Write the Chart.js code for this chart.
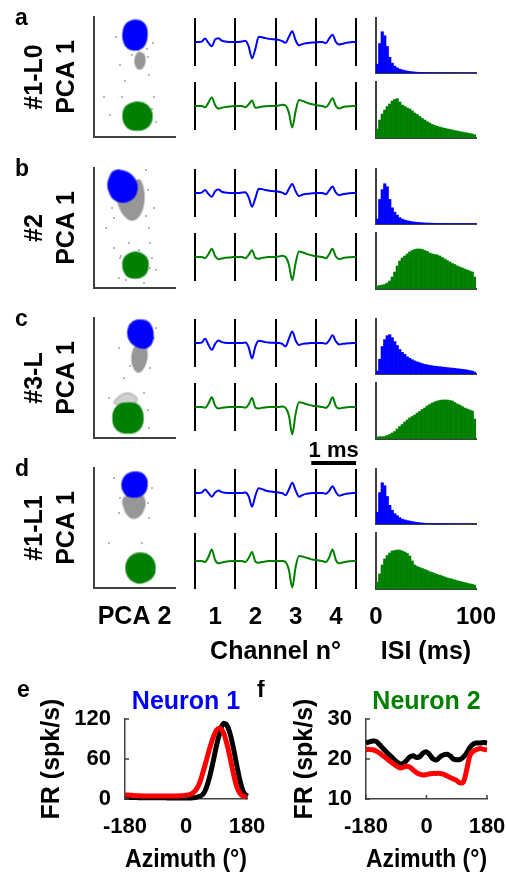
<!DOCTYPE html>
<html>
<head>
<meta charset="utf-8">
<title>Spike sorting and azimuth tuning</title>
<script src="https://cdn.jsdelivr.net/npm/chart.js@4.4.1/dist/chart.umd.min.js"></script>
<style>
html, body { margin: 0; padding: 0; background: #fff; overflow: hidden; }
#fig { position: relative; width: 506px; height: 875px; overflow: hidden; }
#fig canvas { position: absolute; }
</style>
</head>
<body>
<div id="fig"></div>
<script>
// recordings, one per row
const rowLetters = ['a', 'b', 'c', 'd'];
const rowNames = ['#1-L0', '#2', '#3-L', '#1-L1'];

// PCA clusters, outlines as [PCA 2, PCA 1]
const blueClusterA = [[41,117],[48,115],[52,110],[53,102],[51,93],[46,88],[40,87],[34,89],[30,95],[29,103],[31,111],[35,115]];
const grayClusterA = [[46,85],[50,82],[51,76],[49,70],[45,68],[42,71],[41,77],[43,83]];
const greenClusterA = [[43,35],[51,33],[56,28],[58,21],[56,13],[50,8],[43,7],[36,8],[31,13],[29,21],[31,29],[36,33]];
const strayA = [[26,72],[59,94],[16,22],[55,62],[31,56],[60,40],[22,100],[54,80],[10,40],[62,15],[38,82],[53,88],[47,92],[58,28],[28,40]];

const blueClusterB = [[24,118],[32,116],[38,112],[42,106],[43,99],[40,91],[34,87],[27,86],[20,89],[16,95],[14,103],[16,111],[19,116]];
const grayClusterB = [[30,98],[38,104],[45,108],[49,100],[50,90],[48,78],[43,70],[37,68],[31,72],[26,80],[24,90]];
const greenClusterB = [[41,36],[48,34],[53,29],[54,22],[52,15],[47,11],[41,10],[35,11],[31,15],[29,22],[30,29],[35,34]];
const strayB = [[60,80],[55,60],[20,40],[58,30],[25,10],[50,5],[62,18],[12,60],[52,118],[18,80],[56,45],[35,45],[26,30],[27,32],[56,20],[45,38],[32,8],[52,72],[54,98],[20,70]];

const blueClusterC = [[44,118],[52,117],[57,112],[59,104],[58,96],[54,91],[48,90],[42,92],[37,96],[34,103],[35,111],[39,116]];
const grayClusterC = [[42,93],[50,93],[53,86],[52,76],[48,68],[44,66],[40,70],[38,78],[39,87]];
const faintClusterC = [[24,41],[32,45],[40,43],[43,38],[38,33],[28,33],[20,35]];
const greenClusterC = [[34,35],[42,34],[47,29],[49,20],[47,11],[41,6],[34,5],[27,6],[21,11],[19,20],[21,29],[27,34]];
const strayC = [[60,100],[25,90],[15,40],[55,10],[50,45],[62,110],[30,60],[54,28],[56,70],[36,72]];

const blueClusterD = [[40,116],[47,115],[52,110],[53,103],[51,96],[46,92],[40,91],[34,92],[30,96],[28,103],[30,110],[34,114]];
const grayClusterD = [[33,93],[47,93],[51,86],[49,77],[44,71],[38,70],[33,74],[30,81],[29,88]];
const greenClusterD = [[46,35],[54,33],[59,28],[61,20],[59,12],[53,7],[46,5],[39,7],[34,12],[32,20],[34,28],[39,33]];
const strayD = [[15,45],[58,100],[25,75],[60,15],[55,70],[20,110],[48,45],[26,90],[54,85]];

// mean waveforms, 12 samples per channel on channels 1-4 (uV, arbitrary scale)
const samplesPerChannel = 12;
const channelNumbers = [1, 2, 3, 4];
const channelEdges = [0.5, 1.5, 2.5, 3.5, 4.5];

const waveBlueA = [0, 0, 0.5, 4, -1, -5, 3, 4.5, 1.5, 0.5, 0, 0,
                   0, 0, 0.5, 1.5, -5, -19, -8, 6, 5.5, 4.5, 3.8, 3.2,
                   3, 2.5, 1, -1, 6, 12.5, 2, -4, -2.5, -1.5, -1, -0.5,
                   -0.5, 0, 0, -1.5, 4, 8.5, 0, -3, -2, -1, -0.5, 0, 0];
const waveGreenA = [0, 0, 0, -1.5, 4, 10, 1, -3, -2, -1.3, -0.8, -0.3,
                    0, 0, 0, -1.5, 2, 6.5, -2, -1.5, -0.7, -0.3, 0, 0,
                    0, 0.5, 1.5, 0.5, -8, -25, -6, 7, 6, 4.5, 3, 2,
                    1, 0.5, 0, -1.5, 3, 9, 0, -3, -1.5, -0.7, -0.3, 0, 0];
const waveBlueB = [0, 0, 0.5, 3.5, -1, -4.5, 2, 4, 1.5, 0.5, 0, 0,
                   0, 0, 0.5, 1, -5, -16, -6, 5, 4.5, 3.5, 2.8, 2.2,
                   2, 1.5, 0.5, -1.5, 5, 10.5, 2, -3.5, -2, -1.2, -0.8, -0.3,
                   0, 0, 0, -1.5, 3, 7.5, 0.5, -2.5, -1.5, -0.8, -0.3, 0, 0];
const waveGreenB = [0, 0, 0, -1.5, 3.5, 9.5, 1, -2.5, -1.8, -1, -0.5, -0.2,
                    0, 0, 0, -1.5, 2.5, 8, -1, -2, -1, -0.5, 0, 0,
                    0, 0.5, 1.5, 0, -9, -27, -7, 6.5, 5.5, 4, 2.8, 1.8,
                    1, 0.5, 0, -1.5, 3, 9.5, 0.5, -2.5, -1.5, -0.7, -0.3, 0, 0];
const waveBlueC = [0, 0, 0.5, 5, -2, -8, -1, 3, 1, 0.3, 0, 0,
                   0, 0, 0, 0.5, -5, -18, -4, 2.5, 2, 1, 0.5, 0.3,
                   0, 0, -1, -4, 5, 13.5, 3, -2.3, -1, -0.5, -0.2, 0,
                   0, 0, 0, -1, 3, 9, 2, -1.7, -1, -0.5, -0.3, 0, 0];
const waveGreenC = [0, 0, 0, -1, 4, 11.5, 1.5, -1.7, -1, -0.5, 0, 0,
                    0, 0, 0, -1, 3, 10.5, -0.5, -1.7, -1, -0.5, 0, 0,
                    0, 0, 0.5, -1, -10, -32, -8, 5.5, 5, 3.5, 2.5, 1.5,
                    1, 0.5, 0, -1, 3, 11.5, 1, -1.7, -1, -0.5, 0, 0, 0];
const waveBlueD = [0, 0, 0.5, 4, 0, -4.3, 0.5, 3, 1, 0.3, 0, 0,
                   0, 0, 0, 0.5, -4, -16, -3, 5.5, 4.5, 3, 2, 1.5,
                   1, 0.5, 0, -2.7, 4, 12, 3, -4.3, -2.5, -1, -0.5, 0,
                   0, 0, 0, -1, 2.5, 8, 1, -3.3, -2, -1, -0.5, 0, 0];
const waveGreenD = [0, 0, 0, -1, 4, 11.5, 1, -2.3, -1.5, -0.8, -0.3, 0,
                    0, 0, 0, -1, 3, 9, -0.5, -1.7, -1, -0.5, 0, 0,
                    0, 0, 0, -1, -9, -26.5, -6, 5, 4.5, 3.5, 2.5, 1.5,
                    1, 0.5, 0, -1, 3.5, 11.5, 1, -2.3, -1.5, -0.8, -0.3, 0, 0];

// ISI histograms, 2.5 ms bins from 0 to 100 ms (normalised counts)
const isiTicks = [0, 100];
const isiBlueA = [9, 30, 42, 38, 27, 16, 10, 7, 5.2, 4, 3.2, 2.5, 2, 1.6, 1.3, 1, 0.8, 0.7, 0.6, 0.5,
                  0.4, 0.3, 0.3, 0.2, 0.2, 0.2, 0.1, 0.1, 0.1, 0.1, 0, 0, 0, 0, 0, 0, 0, 0, 0, 0];
const isiGreenA = [9, 18, 24, 28, 31.5, 34, 37, 38.5, 39.3, 36, 33, 31.5, 30, 29, 27, 25, 23.5, 21.5, 19.5, 18,
                   16.3, 15, 13.5, 12.5, 11.7, 11, 10.3, 9.6, 9.1, 8.6, 8, 7.4, 7, 6.4, 5.9, 5.4, 5, 4.5, 4, 3.2];
const isiBlueB = [5, 25, 35, 41, 38, 25, 16.5, 12, 9, 6.5, 5, 4, 3.3, 2.8, 2.3, 2, 1.7, 1.5, 1.3, 1.1,
                  1, 0.9, 0.8, 0.7, 0.6, 0.6, 0.5, 0.5, 0.4, 0.4, 0.4, 0.3, 0.3, 0.3, 0.3, 0.2, 0.2, 0.2, 0.2, 0.2];
const isiGreenB = [3, 3.5, 4, 4.5, 6, 8, 12, 17, 23, 28, 31, 33, 35, 37, 38.5, 39.5, 40, 40, 39.5, 38.5,
                   37.5, 36, 35, 34.5, 34, 33, 31.5, 30, 28.5, 27, 25.5, 24.5, 23, 22, 21, 20, 19, 18, 17, 12];
const isiBlueC = [3, 15, 28, 35, 39, 40, 37, 33, 29, 25, 22, 20, 17.5, 16, 14.5, 13.3, 12.3, 11.5, 10.5, 9.8,
                  9.3, 8.8, 8.4, 8, 7.7, 7.4, 7.1, 6.8, 6.5, 6.2, 6, 5.7, 5.4, 5.1, 4.8, 4.5, 4, 3.5, 3, 2];
const isiGreenC = [2, 2.3, 2.3, 2.5, 3.5, 4.5, 6, 7.5, 10, 12.5, 14.5, 17, 19, 21, 22.5, 24, 26, 27.5, 29.5, 31,
                   33, 34.5, 36, 37, 38, 38.5, 39, 39, 39, 38.5, 38, 36.5, 35, 34, 32.5, 31, 30, 29, 28, 20];
const isiBlueD = [12, 32, 42, 39, 28, 19, 14, 10.5, 8.5, 6.5, 5, 4.2, 3.5, 3, 2.4, 2, 1.6, 1.3, 1, 0.8,
                  0.6, 0.5, 0.4, 0.3, 0.3, 0.2, 0.2, 0.2, 0.1, 0.1, 0.1, 0.1, 0, 0, 0, 0, 0, 0, 0, 0];
const isiGreenD = [7, 15, 24, 30, 33.5, 36, 38, 38.5, 39, 39, 38, 37, 35.5, 33, 28, 24, 22.5, 21.5, 20.5, 19.5,
                   18.5, 17.3, 16.5, 15.5, 14.5, 13.8, 13, 12, 11, 10.5, 9.8, 9, 8.3, 7.6, 7, 6.4, 5.8, 5.2, 4.6, 4];

// azimuth tuning (deg, spk/s), black and red conditions
const azimuth = [-180, -170, -160, -150, -140, -130, -120, -110, -100, -90, -80, -70, -60, -50, -40, -30, -20, -10,
                 0, 10, 20, 30, 40, 50, 60, 70, 80, 90, 100, 110, 120, 130, 140, 150, 160, 170, 180];
const azimuthTicks = [-180, 0, 180];
const frBlack1 = [2.5, 2.5, 2.3, 2.2, 2, 2, 2, 2, 1.8, 1.8, 1.8, 1.7, 1.7, 1.6, 1.6, 1.5, 1.5, 1.5,
                  1.5, 1.5, 1.8, 2.5, 4, 7, 17, 34, 56, 80, 100, 113, 111, 98, 76, 50, 26, 10, 4];
const frRed1 = [6, 6, 5.5, 5, 5, 4.5, 4.5, 4.5, 4.5, 4.5, 4.5, 4.5, 4.5, 4.5, 4.5, 4.5, 4.8, 5,
                5.5, 6.5, 9, 14, 24, 40, 58, 76, 92, 103, 106, 100, 84, 62, 38, 18, 8, 4, 3];
const frBlack2 = [24, 24.3, 24.5, 24.4, 23.6, 22.7, 21.8, 21, 20.2, 19.4, 18.8, 18.9, 19.6, 20.5, 20.8, 20.4, 20.6, 21.5,
                  21.8, 21, 20, 19.8, 20.5, 21, 21.2, 20.8, 20, 19.8, 19.9, 20.5, 21.6, 23, 23.8, 24, 24, 24.1, 24];
const frRed2 = [22.4, 22.4, 22.3, 22, 21.5, 20.8, 20.2, 19.5, 18.9, 18.3, 17.8, 17.9, 18.2, 18, 17.3, 16.6, 16.2, 16,
                16.1, 16.3, 16.4, 16.4, 16.4, 16.2, 15.8, 15.4, 15, 14.6, 14, 14.3, 17.5, 21, 22, 22.4, 22.6, 22.4, 22.3];
const frTicks1 = [0, 60, 120];
const frTicks2 = [10, 20, 30];

// per-row groupings
const pcaRows = [
  { blue: blueClusterA, green: greenClusterA, gray: [grayClusterA], faint: [], stray: strayA },
  { blue: blueClusterB, green: greenClusterB, gray: [grayClusterB], faint: [], stray: strayB },
  { blue: blueClusterC, green: greenClusterC, gray: [grayClusterC], faint: [faintClusterC], stray: strayC },
  { blue: blueClusterD, green: greenClusterD, gray: [grayClusterD], faint: [], stray: strayD }
];
const waveRows = [[waveBlueA, waveGreenA], [waveBlueB, waveGreenB], [waveBlueC, waveGreenC], [waveBlueD, waveGreenD]];
const isiRows = [[isiBlueA, isiGreenA], [isiBlueB, isiGreenB], [isiBlueC, isiGreenC], [isiBlueD, isiGreenD]];

// ---- styling / layout ----
const FONT = '"Liberation Sans", Arial, Helvetica, sans-serif';
const BLUE = '#0000ff';
const GREEN = '#008000';
const GRAY = 'rgba(140, 140, 140, 0.9)';
const FAINT = 'rgba(150, 150, 150, 0.45)';
const RED = '#ff0000';
const AXIS = '#404040';
const unitColors = [BLUE, GREEN];
const rowTop = [17, 168, 318, 468];
const channelMs = 0.9;   // time window shown per channel
const scaleBarMs = 1;

Chart.defaults.font.family = FONT;
Chart.defaults.font.weight = 'bold';
Chart.defaults.color = '#000';
Chart.defaults.animation = false;
Chart.defaults.responsive = false;
Chart.defaults.devicePixelRatio = 1;
Chart.defaults.plugins.legend.display = false;
Chart.defaults.plugins.tooltip.enabled = false;

const fig = document.getElementById('fig');
const noGrid = { display: false, drawTicks: false };
const axisBorder = { display: true, color: AXIS, width: 2 };

function addCanvas(left, top, width, height) {
  const c = document.createElement('canvas');
  c.width = width;
  c.height = height;
  c.style.left = left + 'px';
  c.style.top = top + 'px';
  c.style.width = width + 'px';
  c.style.height = height + 'px';
  fig.appendChild(c);
  return c;
}

function toPoints(pairs) {
  return pairs.map(p => ({ x: p[0], y: p[1] }));
}

function letterPlugin(text, x, y) {
  return {
    id: 'panelLetter',
    afterDraw(chart) {
      const ctx = chart.ctx;
      ctx.save();
      ctx.font = 'bold 23px ' + FONT;
      ctx.fillStyle = '#000';
      ctx.fillText(text, x, y);
      ctx.restore();
    }
  };
}

// black separators between the channel windows
const channelBars = {
  id: 'channelBars',
  beforeDatasetsDraw(chart) {
    const { ctx, chartArea, scales } = chart;
    ctx.save();
    ctx.strokeStyle = '#000';
    ctx.lineWidth = 2;
    channelEdges.forEach(v => {
      const x = Math.round(scales.x.getPixelForValue(v));
      ctx.beginPath();
      ctx.moveTo(x, chartArea.top);
      ctx.lineTo(x, chartArea.bottom);
      ctx.stroke();
    });
    ctx.restore();
  }
};

// "1 ms" bar above the last waveform panel
const scaleBar = {
  id: 'scaleBar',
  afterDraw(chart) {
    const { ctx, chartArea, scales } = chart;
    const end = channelEdges[channelEdges.length - 1];
    const x1 = scales.x.getPixelForValue(end - scaleBarMs / channelMs);
    const x2 = scales.x.getPixelForValue(end);
    const y = chartArea.top - 6;
    ctx.save();
    ctx.fillStyle = '#000';
    ctx.fillRect(x1, y - 2, x2 - x1, 4);
    ctx.font = 'bold 22px ' + FONT;
    ctx.textAlign = 'center';
    ctx.fillText(scaleBarMs + ' ms', (x1 + x2) / 2, chartArea.top - 12);
    ctx.restore();
  }
};

// short inward tick marks, drawn on the axis lines
const innerTicks = {
  id: 'innerTicks',
  afterDraw(chart) {
    const { ctx, chartArea, scales } = chart;
    ctx.save();
    ctx.strokeStyle = AXIS;
    ctx.lineWidth = 1.5;
    ctx.beginPath();
    scales.x.ticks.forEach(t => {
      const px = scales.x.getPixelForValue(t.value);
      ctx.moveTo(px, chartArea.bottom);
      ctx.lineTo(px, chartArea.bottom - 4);
    });
    scales.y.ticks.forEach(t => {
      const py = scales.y.getPixelForValue(t.value);
      ctx.moveTo(chartArea.left, py);
      ctx.lineTo(chartArea.left + 4, py);
    });
    ctx.stroke();
    ctx.restore();
  }
};

// a dense spike cluster, filled inside its outline
function blob(outline, fillColor, edgeColor) {
  return {
    data: toPoints(outline.concat([outline[0]])),
    showLine: true,
    fill: 'shape',
    tension: 0.45,
    backgroundColor: fillColor,
    borderColor: edgeColor,
    borderWidth: 2.5,
    pointRadius: 0
  };
}

// ---- PCA scatter column ----
function drawScatter(r) {
  const top = rowTop[r];
  const last = r === rowTop.length - 1;
  const below = last ? 52 : 4;
  const cv = addCanvas(0, top - 17, 180, 17 + 120 + below);
  const rowData = pcaRows[r];
  new Chart(cv, {
    type: 'scatter',
    data: {
      datasets: [
        blob(rowData.blue, BLUE, 'rgba(0, 0, 255, 0.55)'),
        blob(rowData.green, GREEN, 'rgba(0, 128, 0, 0.55)'),
        ...rowData.gray.map(g => blob(g, GRAY, 'rgba(150, 150, 150, 0.5)')),
        ...rowData.faint.map(g => blob(g, FAINT, 'rgba(150, 150, 150, 0.3)')),
        { data: toPoints(rowData.stray), pointRadius: 0.9, backgroundColor: '#999', borderWidth: 0 }
      ]
    },
    options: {
      layout: { padding: { left: 0, top: 17, right: 5, bottom: 0 } },
      scales: {
        x: {
          min: 0, max: 81,
          ticks: { display: false },
          grid: noGrid,
          border: axisBorder,
          title: { display: last, text: 'PCA 2', font: { size: 25 }, padding: { top: 0, bottom: 8 } },
          afterFit: s => { s.height = below; }
        },
        y: {
          min: 0, max: 120,
          ticks: { display: false },
          grid: noGrid,
          border: axisBorder,
          title: { display: true, text: [rowNames[r], 'PCA 1'], font: { size: 25, lineHeight: 1.3 }, padding: { top: 18.75, bottom: 0 } },
          afterFit: s => { s.width = 94; }
        }
      }
    },
    plugins: [letterPlugin(rowLetters[r], 15, 25)]
  });
}

// ---- mean waveform column ----
function drawWave(r, unit) {
  const t = rowTop[r] + (unit ? 65 : 1);
  const b = rowTop[r] + (unit ? 121 : 57);
  const last = unit === 1 && r === rowTop.length - 1;
  const withBar = unit === 0 && r === rowTop.length - 1;
  const cvTop = withBar ? 435 : t - 8;
  const below = last ? 670 - b : 8;
  const cv = addCanvas(185, cvTop, 180, b - cvTop + below);
  const values = waveRows[r][unit];
  new Chart(cv, {
    type: 'line',
    data: {
      datasets: [{
        data: values.map((v, i) => ({ x: channelEdges[0] + i / samplesPerChannel, y: v })),
        borderColor: unitColors[unit],
        borderWidth: 2,
        pointRadius: 0,
        cubicInterpolationMode: 'monotone',
        clip: false
      }]
    },
    options: {
      layout: { padding: { left: 10, right: 9, top: t - cvTop, bottom: last ? 0 : 8 } },
      scales: {
        x: {
          type: 'linear',
          min: channelEdges[0], max: channelEdges[channelEdges.length - 1],
          display: last,
          afterBuildTicks: s => { s.ticks = channelNumbers.map(v => ({ value: v })); },
          ticks: { font: { size: 24 }, padding: 14 },
          grid: noGrid,
          border: { display: false },
          title: { display: true, text: 'Channel n°', font: { size: 25 }, padding: { top: 0, bottom: 3 } },
          afterFit: s => { s.height = below; }
        },
        y: { display: false, min: -28, max: 28 }
      }
    },
    plugins: withBar ? [channelBars, scaleBar] : [channelBars]
  });
}

// ---- ISI histogram column ----
function drawIsi(r, unit) {
  const t = rowTop[r] + (unit ? 65 : 1);
  const b = rowTop[r] + (unit ? 121 : 56);
  const last = unit === 1 && r === rowTop.length - 1;
  const below = last ? 670 - b : 3;
  const cvTop = t - 4;
  const cv = addCanvas(345, cvTop, 167, b - cvTop + below);
  const counts = isiRows[r][unit];
  new Chart(cv, {
    type: 'bar',
    data: {
      labels: counts.map((_, i) => i),
      datasets: [{
        data: counts,
        backgroundColor: unitColors[unit],
        borderWidth: 0,
        barPercentage: 1,
        categoryPercentage: 1
      }]
    },
    options: {
      layout: { padding: { left: 31, top: 4, right: 36, bottom: 0 } },
      scales: {
        x: { display: false },
        xt: {
          type: 'linear', position: 'bottom', min: 0, max: 100, offset: false,
          afterBuildTicks: s => { s.ticks = isiTicks.map(v => ({ value: v })); },
          ticks: { display: last, font: { size: 24 }, padding: 14 },
          grid: noGrid,
          border: axisBorder,
          title: { display: last, text: 'ISI (ms)', font: { size: 25 }, padding: { top: 0, bottom: 3 } },
          afterFit: s => { s.height = below; }
        },
        y: {
          min: 0, max: 56,
          ticks: { display: false },
          grid: noGrid,
          border: axisBorder,
          afterFit: s => { s.width = 0; }
        }
      }
    }
  });
}

// ---- azimuth tuning panels ----
function drawTuning(p) {
  const cv = addCanvas(p.left, 680, p.width, 195);
  new Chart(cv, {
    type: 'line',
    data: {
      datasets: [
        { data: azimuth.map((a, i) => ({ x: a, y: p.red[i] })), borderColor: RED, borderWidth: 5, pointRadius: 0, tension: 0.4, clip: false },
        { data: azimuth.map((a, i) => ({ x: a, y: p.black[i] })), borderColor: '#000', borderWidth: 5, pointRadius: 0, tension: 0.4, clip: false }
      ]
    },
    options: {
      layout: { padding: { left: 0, top: 0, right: 36, bottom: 0 } },
      plugins: {
        title: {
          display: true, text: p.title, color: p.titleColor, fullSize: false,
          font: { size: 25, lineHeight: 1.2 }, padding: { top: 7, bottom: 2 }
        }
      },
      scales: {
        x: {
          type: 'linear', min: -180, max: 180,
          afterBuildTicks: s => { s.ticks = azimuthTicks.map(v => ({ value: v })); },
          ticks: { font: { size: 22 }, padding: 15 },
          grid: noGrid,
          border: { display: true, color: AXIS, width: 1.5 },
          title: { display: true, text: 'Azimuth (°)', font: { size: 25 }, padding: { top: 0, bottom: 0 } },
          afterFit: s => { s.height = 76; }
        },
        y: {
          min: p.yTicks[0], max: p.yTicks[p.yTicks.length - 1],
          afterBuildTicks: s => { s.ticks = p.yTicks.map(v => ({ value: v })); },
          ticks: { font: { size: 22 }, padding: 14 },
          grid: noGrid,
          border: { display: true, color: AXIS, width: 1.5 },
          title: { display: true, text: 'FR (spk/s)', font: { size: 25 }, padding: { top: p.yTitlePad, bottom: 0 } },
          afterFit: s => { s.width = p.axisWidth; }
        }
      }
    },
    plugins: [innerTicks, letterPlugin(p.letter, p.letterX, 17)]
  });
}

for (let r = 0; r < rowTop.length; r++) {
  drawScatter(r);
  drawWave(r, 0);
  drawWave(r, 1);
  drawIsi(r, 0);
  drawIsi(r, 1);
}

drawTuning({ left: 0, width: 283, letter: 'e', letterX: 17, title: 'Neuron 1', titleColor: BLUE,
             black: frBlack1, red: frRed1, yTicks: frTicks1, yTitlePad: 37, axisWidth: 125 });
drawTuning({ left: 250, width: 273, letter: 'f', letterX: 7, title: 'Neuron 2', titleColor: GREEN,
             black: frBlack2, red: frRed2, yTicks: frTicks2, yTitlePad: 40, axisWidth: 116 });
</script>
</body>
</html>
